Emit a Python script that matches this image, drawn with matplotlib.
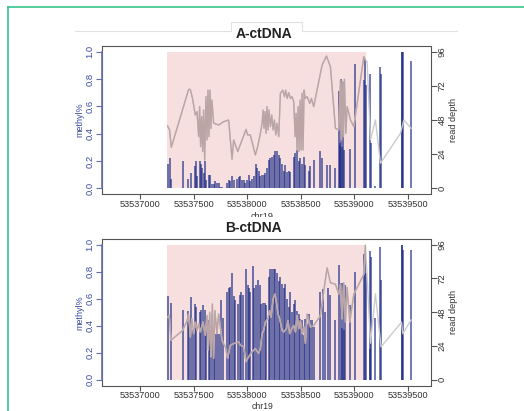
"""
Methylation level and read depth along chr19, two samples
"""

import matplotlib.pyplot as plt
from matplotlib.patches import Rectangle
from matplotlib.lines import Line2D

plt.rcParams["font.family"] = ["Liberation Sans", "DejaVu Sans"]

W, H = 524, 411

# ---- data ----
x_ticks = [53537000, 53537500, 53538000, 53538500, 53539000, 53539500]
x_tick_labels = ["53537000", "53537500", "53538000", "53538500", "53539000", "53539500"]
meth_ticks = [0.0, 0.2, 0.4, 0.6, 0.8, 1.0]
meth_tick_labels = ["0.0", "0.2", "0.4", "0.6", "0.8", "1.0"]
depth_ticks = [0, 24, 48, 72, 96]
depth_tick_labels = ["0", "24", "48", "72", "96"]
region = (53537255, 53539115)  # shaded region

a_pos = [53537256, 53537275, 53537291, 53537397, 53537444, 53537475, 53537512, 53537525,
         53537534, 53537556, 53537568, 53537581, 53537593, 53537606, 53537618, 53537640,
         53537656, 53537671, 53537687, 53537703, 53537718, 53537734, 53537749, 53537765,
         53537812, 53537827, 53537843, 53537859, 53537874, 53537905, 53537921, 53537937,
         53537952, 53537968, 53537983, 53537999, 53538015, 53538030, 53538046, 53538068,
         53538080, 53538093, 53538108, 53538124, 53538140, 53538155, 53538171, 53538186,
         53538202, 53538218, 53538233, 53538249, 53538264, 53538280, 53538296, 53538311,
         53538327, 53538342, 53538358, 53538374, 53538389, 53538405, 53538436, 53538452,
         53538467, 53538483, 53538498, 53538514, 53538530, 53538545, 53538576, 53538592,
         53538623, 53538686, 53538701, 53538748, 53538779, 53538826, 53538857, 53538865,
         53538873, 53538880, 53538888, 53538896, 53538904, 53538960, 53539013, 53539091,
         53539100, 53539110, 53539147, 53539154, 53539200, 53539247, 53539256, 53539444,
         53539452, 53539459, 53539534]
a_meth = [0.18, 0.22, 0.07, 0.20, 0.07, 0.11, 0.16, 0.20,
          0.09, 0.20, 0.18, 0.15, 0.11, 0.20, 0.06, 0.10,
          0.10, 0.03, 0.03, 0.05, 0.04, 0.04, 0.01, 0.01,
          0.04, 0.06, 0.05, 0.09, 0.06, 0.07, 0.08, 0.09,
          0.06, 0.06, 0.04, 0.06, 0.10, 0.05, 0.07, 0.09,
          0.18, 0.15, 0.13, 0.09, 0.10, 0.10, 0.11, 0.15,
          0.21, 0.22, 0.23, 0.24, 0.27, 0.27, 0.24, 0.22,
          0.18, 0.13, 0.17, 0.12, 0.13, 0.12, 0.23, 0.26,
          0.28, 0.20, 0.22, 0.18, 0.23, 0.17, 0.13, 0.16,
          0.21, 0.27, 0.22, 0.17, 0.17, 0.15, 0.71, 0.33,
          0.31, 0.80, 0.30, 0.78, 0.28, 0.29, 0.91, 0.79,
          0.95, 0.76, 0.84, 0.33, 0.02, 0.89, 0.84, 1.00,
          1.00, 1.00, 0.93]

a_depth_pos = [53537256, 53537275, 53537291, 53537453, 53537469, 53537490, 53537515, 53537531,
               53537547, 53537556, 53537565, 53537575, 53537584, 53537593, 53537603, 53537615,
               53537625, 53537634, 53537643, 53537653, 53537662, 53537671, 53537687, 53537734,
               53537781, 53537827, 53537859, 53537874, 53537912, 53537990, 53538005, 53538030,
               53538077, 53538099, 53538124, 53538140, 53538149, 53538158, 53538168, 53538177,
               53538186, 53538196, 53538205, 53538218, 53538230, 53538243, 53538255, 53538268,
               53538280, 53538296, 53538311, 53538333, 53538349, 53538361, 53538374, 53538389,
               53538405, 53538420, 53538436, 53538449, 53538458, 53538467, 53538477, 53538486,
               53538495, 53538505, 53538514, 53538523, 53538533, 53538542, 53538561, 53538586,
               53538601, 53538623, 53538701, 53538742, 53538779, 53538826, 53538857, 53538873,
               53538882, 53538892, 53538901, 53538910, 53538923, 53538935, 53538967, 53538998,
               53539091, 53539107, 53539122, 53539154, 53539200, 53539247, 53539434, 53539466,
               53539534]
a_depth = [43.8, 41.0, 28.8, 69.5, 69.5, 63.0, 51.5, 53.9,
           36.3, 57.4, 29.3, 50.3, 25.8, 55.0, 19.9, 64.4,
           34.0, 69.0, 36.3, 69.0, 42.0, 62.0, 45.7, 44.5,
           46.8, 48.0, 20.4, 34.0, 25.8, 41.4, 37.5, 37.5,
           23.4, 29.3, 38.6, 45.7, 55.0, 42.1, 53.9, 38.6,
           57.4, 41.0, 55.0, 43.3, 51.5, 41.0, 48.0, 37.5,
           45.7, 36.3, 66.7, 69.0, 64.4, 69.0, 63.2, 67.2,
           63.2, 64.4, 60.9, 36.3, 52.7, 26.9, 57.4, 25.8,
           62.0, 26.9, 66.7, 26.9, 69.0, 63.2, 64.4, 59.7,
           63.2, 57.4, 86.6, 93.0, 85.5, 42.1, 41.0, 76.0,
           34.0, 75.0, 36.3, 76.6, 38.6, 57.4, 48.0, 43.3,
           92.5, 90.1, 89.0, 34.0, 48.0, 17.6, 38.6, 48.0,
           42.1]

b_pos = [53537256, 53537288, 53537397, 53537444, 53537453, 53537475, 53537490, 53537512,
         53537525, 53537556, 53537568, 53537584, 53537603, 53537618, 53537640, 53537656,
         53537671, 53537687, 53537703, 53537718, 53537734, 53537755, 53537774, 53537812,
         53537827, 53537843, 53537859, 53537874, 53537890, 53537912, 53537930, 53537943,
         53537959, 53537990, 53538005, 53538021, 53538030, 53538052, 53538068, 53538086,
         53538099, 53538118, 53538133, 53538149, 53538164, 53538180, 53538202, 53538218,
         53538233, 53538249, 53538264, 53538280, 53538296, 53538311, 53538327, 53538342,
         53538358, 53538374, 53538389, 53538405, 53538420, 53538436, 53538452, 53538467,
         53538483, 53538498, 53538514, 53538530, 53538545, 53538561, 53538576, 53538592,
         53538608, 53538623, 53538686, 53538708, 53538733, 53538758, 53538779, 53538826,
         53538863, 53538879, 53538888, 53538898, 53538906, 53538920, 53538958, 53539013,
         53539091, 53539100, 53539110, 53539147, 53539150, 53539160, 53539200, 53539247,
         53539256, 53539444, 53539452, 53539459, 53539534]
b_meth = [0.62, 0.57, 0.52, 0.51, 0.42, 0.61, 0.37, 0.56,
          0.54, 0.50, 0.52, 0.55, 0.52, 0.38, 0.44, 0.37,
          0.49, 0.27, 0.34, 0.43, 0.34, 0.59, 0.46, 0.65,
          0.68, 0.69, 0.79, 0.62, 0.59, 0.56, 0.63, 0.65,
          0.63, 0.82, 0.70, 0.68, 0.65, 0.84, 0.68, 0.70,
          0.74, 0.70, 0.56, 0.57, 0.57, 0.55, 0.76, 0.82,
          0.82, 0.82, 0.82, 0.79, 0.73, 0.76, 0.71, 0.68,
          0.71, 0.60, 0.54, 0.65, 0.50, 0.56, 0.59, 0.51,
          0.49, 0.45, 0.44, 0.33, 0.45, 0.41, 0.49, 0.44,
          0.44, 0.39, 0.65, 0.67, 0.50, 0.68, 0.63, 0.44,
          0.85, 0.72, 0.38, 0.72, 0.37, 0.70, 0.55, 0.80,
          0.93, 0.94, 0.79, 0.95, 0.23, 0.91, 0.46, 0.98,
          0.74, 1.00, 1.00, 0.96, 0.96]

b_depth_pos = [53537256, 53537272, 53537288, 53537397, 53537437, 53537453, 53537469, 53537484,
               53537500, 53537515, 53537531, 53537547, 53537562, 53537587, 53537609, 53537625,
               53537637, 53537650, 53537662, 53537675, 53537687, 53537699, 53537718, 53537734,
               53537765, 53537796, 53537818, 53537843, 53537890, 53537921, 53537937, 53537968,
               53537990, 53538015, 53538046, 53538077, 53538108, 53538124, 53538140, 53538155,
               53538171, 53538193, 53538211, 53538224, 53538243, 53538261, 53538274, 53538289,
               53538305, 53538327, 53538342, 53538367, 53538383, 53538398, 53538417, 53538436,
               53538452, 53538467, 53538483, 53538498, 53538514, 53538530, 53538545, 53538561,
               53538592, 53538623, 53538686, 53538717, 53538748, 53538779, 53538826, 53538857,
               53538873, 53538888, 53538904, 53538920, 53538935, 53538960, 53538998, 53539091,
               53539107, 53539154, 53539200, 53539252, 53539444, 53539456, 53539534]
b_depth = [44.5, 45.7, 28.1, 35.1, 41.7, 46.8, 30.4, 43.3,
           32.8, 41.0, 35.1, 39.8, 34.0, 41.0, 31.6, 45.7,
           21.1, 48.0, 16.4, 53.9, 15.2, 49.2, 32.8, 46.8,
           28.1, 23.4, 15.2, 24.6, 26.2, 26.9, 24.6, 23.4,
           12.9, 16.4, 19.9, 22.2, 18.7, 22.2, 32.8, 35.1,
           41.0, 43.3, 49.2, 44.5, 57.4, 60.9, 55.0, 46.8,
           43.3, 35.1, 34.0, 36.3, 42.1, 32.8, 36.3, 38.6,
           34.0, 45.7, 36.3, 42.1, 32.8, 37.5, 25.8, 46.8,
           37.5, 38.6, 45.7, 63.2, 79.6, 69.0, 67.9, 60.9,
           67.9, 43.3, 69.0, 41.0, 65.6, 41.0, 60.9, 74.9,
           96.0, 26.0, 61.0, 23.4, 41.0, 32.8, 42.6]

# ---- style ----
BLUE = "#3a4a9e"
BAR = "#1c2b86"
PINK = "#f8dfdf"
GREY_TXT = "#333333"
XLIM = (53536640, 53539715)
YLIM = (-0.042, 1.042)


def fx(x):
    return x / W


def fy(y):
    return 1 - y / H


def draw_panel(top_px, height_px, pos, meth, dpos, depth):
    ax = fig.add_axes([fx(101.7), fy(top_px + height_px), 328.8 / W, height_px / H])
    ax.set_xlim(*XLIM)
    ax.set_ylim(*YLIM)
    for s in ax.spines.values():
        s.set_color("#555555")
        s.set_linewidth(0.8)

    ax.add_patch(Rectangle((region[0], 0), region[1] - region[0], 1,
                           facecolor=PINK, edgecolor="none", zorder=0))
    ax.vlines(pos, 0, meth, colors=BAR, linewidth=1.1, alpha=0.8, zorder=2)

    # blue methylation axis line (0..1 only)
    ax.plot([0, 0], [0, 1], transform=ax.get_yaxis_transform(), color="#6670b0",
            lw=1.2, clip_on=False, zorder=6)

    ax.set_xticks(x_ticks)
    ax.set_xticklabels(x_tick_labels, fontsize=6.6, color=GREY_TXT)
    ax.tick_params(axis="x", length=3.5, pad=0.8, color="#555555")
    ax.set_yticks(meth_ticks)
    ax.set_yticklabels(meth_tick_labels, fontsize=6.8, color=BLUE)
    ax.tick_params(axis="y", length=4, pad=1, color="#6670b0")
    for lab in ax.get_yticklabels():
        lab.set_rotation(90)
        lab.set_va("center")
    ax.set_ylabel("methyl%", fontsize=6.5, color=BLUE, labelpad=1)

    ax2 = ax.twinx()
    ax2.set_ylim(YLIM[0] * 96, YLIM[1] * 96)
    for s in ax2.spines.values():
        s.set_visible(False)
    ax2.set_yticks(depth_ticks)
    ax2.set_yticklabels(depth_tick_labels, fontsize=6.8, color=GREY_TXT)
    ax2.tick_params(axis="y", length=4, pad=1, color="#555555")
    for lab in ax2.get_yticklabels():
        lab.set_rotation(90)
        lab.set_va("center")
    ax2.set_ylabel("read depth", fontsize=6.6, color=GREY_TXT, labelpad=2)

    ax2.plot(dpos, depth, color="#cbcbcb", lw=1.0, zorder=3)
    inside, = ax2.plot(dpos, depth, color="#bca4a4", lw=1.0, zorder=4)
    clip = Rectangle((region[0], 0), region[1] - region[0], 96, transform=ax2.transData)
    inside.set_clip_path(clip)
    return ax


fig = plt.figure(figsize=(W / 100, H / 100), dpi=100)

draw_panel(46, 148, a_pos, a_meth, a_depth_pos, a_depth)
draw_panel(239, 146.5, b_pos, b_meth, b_depth_pos, b_depth)

# x labels (upper one partly hidden by the lower picture)
fig.text(fx(262), fy(216.5), "chr19", fontsize=6.6, color=GREY_TXT, ha="center", va="center")
fig.patches.append(Rectangle((fx(225), fy(226)), 80 / W, 8.5 / H, transform=fig.transFigure,
                             facecolor="white", edgecolor="none", zorder=5))
fig.text(fx(262), fy(410.6), "chr19", fontsize=6.2, color=GREY_TXT, ha="center", va="bottom")

# titles
grey_line = "#e2e2e2"
fig.add_artist(Line2D([fx(75), fx(231)], [fy(31), fy(31)], color=grey_line, lw=0.8))
fig.add_artist(Line2D([fx(302), fx(457)], [fy(31), fy(31)], color=grey_line, lw=0.8))
fig.add_artist(Line2D([fx(231), fx(231), fx(302), fx(302)],
                      [fy(31), fy(21.7), fy(21.7), fy(31)], color=grey_line, lw=0.8))
fig.text(fx(264), fy(33.5), "A-ctDNA", fontsize=10, fontweight="bold", color="#222222",
         ha="center", va="center", zorder=6)
fig.text(fx(253), fy(228), "B-ctDNA", fontsize=10, fontweight="bold", color="#222222",
         ha="center", va="center", zorder=6)

# green frame of the screenshot
green = "#35c28c"
fig.add_artist(Line2D([fx(8), fx(8)], [fy(7), 0], color=green, lw=1.2))
fig.add_artist(Line2D([fx(8), 1], [fy(7), fy(7)], color=green, lw=1.2))

fig.savefig("out.png", dpi=100)
plt.close(fig)
